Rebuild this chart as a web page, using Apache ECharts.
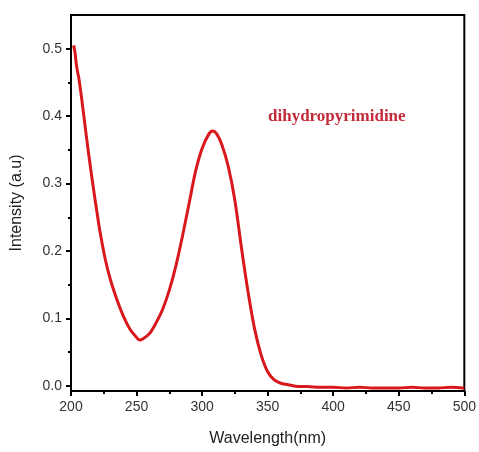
<!DOCTYPE html>
<html>
<head>
<meta charset="utf-8">
<script src="https://cdn.jsdelivr.net/npm/echarts@6/dist/echarts.min.js"></script>
<style>html,body{margin:0;padding:0;background:#fff}#c{width:479px;height:452px}</style>
</head>
<body>
<div id="c"></div>
<script>
const wavelengths = [202,203,204,205,206,208,210,212,215,218,222,226,230,235,240,245,250,252,255,260,265,270,275,280,285,290,295,300,305,308,311,315,320,325,330,335,340,345,350,355,360,365,370,375,380,390,400,410,420,430,440,450,460,470,480,490,500];
const intensity = [0.505,0.495,0.478,0.466,0.456,0.428,0.397,0.366,0.322,0.281,0.230,0.189,0.158,0.128,0.103,0.084,0.072,0.068,0.070,0.078,0.094,0.114,0.142,0.178,0.222,0.270,0.318,0.352,0.373,0.378,0.374,0.358,0.325,0.275,0.205,0.140,0.085,0.046,0.021,0.009,0.004,0.002,0.000,-0.001,-0.001,-0.002,-0.002,-0.003,-0.002,-0.003,-0.003,-0.003,-0.002,-0.003,-0.003,-0.002,-0.003];
const yTickValues = [0.0,0.1,0.2,0.3,0.4,0.5];
const yMinorValues = [0.05,0.15,0.25,0.35,0.45];
const seriesLabel = 'dihydropyrimidine';

const data = wavelengths.map((w,i)=>[w,intensity[i]]);
const chart = echarts.init(document.getElementById('c'));
const font = 'Liberation Sans, Arial, sans-serif';
chart.setOption({
  animation:false,
  grid:{left:71,right:12,top:15,bottom:61,show:true,borderColor:'#000',borderWidth:2,backgroundColor:'transparent'},
  title:{text:seriesLabel,left:263,top:103,textStyle:{fontFamily:'Liberation Serif, Times New Roman, serif',fontWeight:'bold',fontSize:17,color:'#c42b3a'}},
  xAxis:{type:'value',min:200,max:500,interval:50,
    name:'Wavelength(nm)',nameLocation:'middle',nameGap:40,
    nameTextStyle:{fontFamily:font,fontSize:16,color:'#222'},
    axisLine:{onZero:false,lineStyle:{color:'#000',width:2}},
    axisTick:{inside:false,length:5,lineStyle:{color:'#000',width:2}},
    minorTick:{show:true,splitNumber:2,length:3,lineStyle:{color:'#000',width:2}},
    axisLabel:{fontFamily:font,fontSize:14,color:'#333',margin:9},
    splitLine:{show:false}},
  yAxis:[{type:'value',min:-0.0075,max:0.55,
    name:'Intensity (a.u)',nameLocation:'middle',nameGap:46,
    nameTextStyle:{fontFamily:font,fontSize:16,color:'#222'},
    axisLine:{onZero:false,lineStyle:{color:'#000',width:2}},
    axisTick:{length:5,customValues:yTickValues,lineStyle:{color:'#000',width:2}},
    axisLabel:{fontFamily:font,fontSize:14,color:'#333',margin:9,customValues:yTickValues,formatter:v=>v.toFixed(1)},
    splitLine:{show:false}},
   {type:'value',min:-0.0075,max:0.55,position:'left',
    axisLine:{show:false,onZero:false},
    axisTick:{show:true,length:3,customValues:yMinorValues,lineStyle:{color:'#000',width:2}},
    axisLabel:{show:false},splitLine:{show:false}}],
  series:[{type:'line',data:data,showSymbol:false,smooth:0.3,
    lineStyle:{color:'#d8181c',width:3},yAxisIndex:0}]
});
</script>
</body>
</html>
